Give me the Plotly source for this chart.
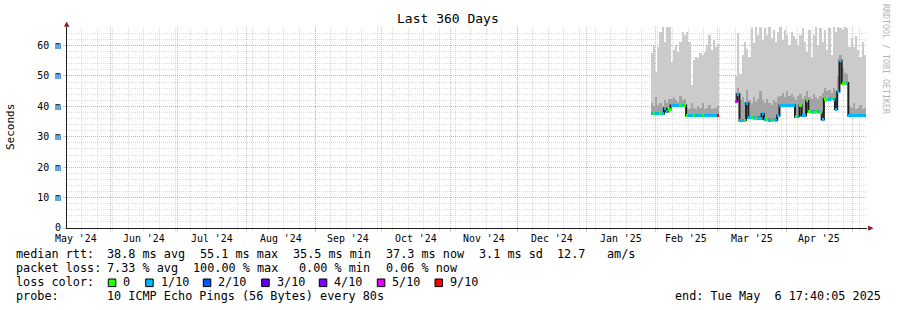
import pandas as pd
import plotly.graph_objects as go

# ---------------- data ----------------
RANGE_START = "2024-05-12 09:36"
RANGE_END = "2025-05-07 09:36"

seg1_start = "2025-01-30"
seg1_median = [37.6, 37.5, 37.6, 37.7, 37.6, 37.6, 39.3, 38.3, 39.0, 40.3, 40.2, 40.3, 40.4, 40.3, 40.2, 40.3,
               37.0, 37.1, 37.0, 36.9, 37.0, 37.1, 37.0, 37.0, 36.9, 37.0, 37.1, 37.0, 37.0, 36.9, 37.0]
seg1_loss = [1, 0, 1, 1, 0, 1, 1, 1, 0, 1, 1, 1, 1, 0, 1, 0,
             0, 1, 1, 0, 1, 1, 1, 0, 1, 1, 1, 1, 1, 1, 6]
seg1_top = [57.4, 60.0, 51.4, 59.5, 64.6, 66.0, 61.3, 66.0, 66.0, 54.7, 58.5, 60.1, 57.9, 61.3, 64.6, 63.5,
            64.6, 61.3, 47.0, 55.2, 56.4, 55.8, 57.4, 56.9, 57.9, 60.1, 63.5, 58.5, 61.8, 59.5, 60.6]
seg1_dark = [41.0, 40.0, 43.0, 40.5, 41.0, 40.0, 42.0, 41.0, 42.5, 42.5, 43.0, 42.0, 41.5, 43.5, 42.0, 42.5,
             39.5, 39.0, 41.0, 39.3, 39.0, 40.0, 39.5, 41.0, 39.0, 39.5, 40.5, 39.0, 39.5, 39.3, 40.0]

seg2_start = "2025-03-09"
seg2_median = [41.6, 44.0, 35.3, 35.4, 35.5, 41.0, 36.3, 36.4, 36.2, 36.0,
               36.3, 35.9, 37.5, 35.8, 35.6, 35.5, 35.4, 35.6, 35.5, 37.0,
               40.3, 40.4, 40.3, 40.2, 40.4, 40.3, 40.3, 36.6, 36.8, 40.3,
               37.0, 37.0, 41.8, 38.2, 38.2, 38.1, 38.3, 38.2, 38.0, 35.7,
               42.4, 42.4, 42.3, 42.5, 42.4, 39.1, 44.9, 55.1, 47.6, 47.5,
               47.7, 36.9, 36.9, 36.9, 36.9, 36.9, 36.9, 37.0, 37.1]
seg2_loss = [5, 1, 1, 1, 0, 1, 1, 0, 1, 0,
             1, 1, 1, 1, 0, 1, 0, 1, 1, 1,
             1, 1, 1, 1, 1, 1, 1, 0, 1, 0,
             1, 1, 0, 0, 1, 0, 0, 1, 0, 1,
             0, 0, 1, 0, 1, 1, 1, 1, 0, 0,
             1, 1, 1, 1, 1, 1, 1, 1, 1]
seg2_top = [50.0, 64.0, 50.5, 57.0, 61.3, 59.0, 56.4, 65.7, 60.7, 66.0,
            63.5, 66.0, 61.8, 65.7, 63.5, 66.0, 62.4, 65.2, 61.3, 64.6,
            66.0, 61.8, 65.2, 63.5, 60.1, 64.6, 63.0, 62.0, 60.0, 63.5,
            65.7, 61.3, 57.9, 65.2, 56.4, 63.5, 66.0, 60.1, 65.7, 61.3,
            65.2, 58.5, 65.7, 56.9, 66.0, 64.6, 66.0, 65.7, 65.2, 66.0,
            65.7, 59.5, 62.4, 59.5, 63.0, 58.5, 56.4, 61.3, 56.9]
seg2_dark = [44.5, 46.0, 42.0, 43.0, 41.5, 45.5, 42.0, 41.0, 43.0, 41.5,
             42.5, 45.0, 42.0, 41.0, 42.5, 41.0, 40.5, 42.0, 41.5, 43.0,
             43.5, 44.5, 43.0, 45.0, 43.5, 44.0, 43.0, 42.0, 43.5, 44.0,
             42.5, 43.5, 45.0, 43.0, 42.5, 44.0, 43.0, 42.5, 43.5, 44.5,
             46.0, 45.0, 45.5, 44.5, 46.0, 45.0, 50.0, 57.0, 52.5, 51.0,
             50.5, 40.0, 39.5, 41.0, 39.0, 39.5, 40.5, 39.0, 39.5]

loss_labels = ["0", "1/10", "2/10", "3/10", "4/10", "5/10", "9/10"]
loss_colors = ["#26ff00", "#00b8ff", "#0059ff", "#5e00ff", "#7e00ff", "#dd00ff", "#ff0000"]

month_starts = ["2024-06-01", "2024-07-01", "2024-08-01", "2024-09-01", "2024-10-01", "2024-11-01",
                "2024-12-01", "2025-01-01", "2025-02-01", "2025-03-01", "2025-04-01", "2025-05-01"]
month_label_pos = ["2024-05-16 12:00", "2024-06-16", "2024-07-16 12:00", "2024-08-16 12:00",
                   "2024-09-16", "2024-10-16 12:00", "2024-11-16", "2024-12-16 12:00",
                   "2025-01-16 12:00", "2025-02-15", "2025-03-16 12:00", "2025-04-16"]
month_labels = ["May '24", "Jun '24", "Jul '24", "Aug '24", "Sep '24", "Oct '24",
                "Nov '24", "Dec '24", "Jan '25", "Feb '25", "Mar '25", "Apr '25"]
week_lines = [d.strftime("%Y-%m-%d") for d in pd.date_range("2024-05-12", "2025-05-06", freq="W-SUN")]

y_tickvals = [0, 10, 20, 30, 40, 50, 60]
y_ticktext = ["0", "10 m", "20 m", "30 m", "40 m", "50 m", "60 m"]

title_text = "Last 360 Days"
y_title = "Seconds"
watermark = "RRDTOOL / TOBI OETIKER"
legend_line1 = ["median rtt:", "38.8 ms avg", "55.1 ms max", "35.5 ms min", "37.3 ms now", "3.1 ms sd", "12.7", "am/s"]
legend_line2 = ["packet loss:", "7.33 % avg", "100.00 % max", "0.00 % min", "0.06 % now"]
legend_line3_head = "loss color:"
legend_line4 = ["probe:", "10 ICMP Echo Pings (56 Bytes) every 80s"]
end_text = "end: Tue May  6 17:40:05 2025"

# ---------------- layout constants ----------------
FIG_W, FIG_H = 897, 310
ML, MR, MT, MB = 67, 30, 27, 82
PW = FIG_W - ML - MR
PH = FIG_H - MT - MB
FONT = "DejaVu Sans Mono"
DAY_MS = 86400000


def pxx(px):
    return (px - ML) / PW


def pxy(py):
    return (MT + PH - py) / PH


fig = go.Figure()

for start, med, loss, top, dark in [(seg1_start, seg1_median, seg1_loss, seg1_top, seg1_dark),
                                    (seg2_start, seg2_median, seg2_loss, seg2_top, seg2_dark)]:
    xs = pd.date_range(start, periods=len(med), freq="D") + pd.Timedelta(hours=12)
    fig.add_trace(go.Bar(x=xs, y=[t - m for t, m in zip(top, med)], base=med, width=DAY_MS,
                         marker=dict(color="#cbcbcb", line=dict(width=0)), hoverinfo="skip"))
    fig.add_trace(go.Bar(x=xs, y=[d - m for d, m in zip(dark, med)], base=med, width=DAY_MS,
                         marker=dict(color="#a3a3a3", line=dict(width=0)), hoverinfo="skip"))
    fig.add_trace(go.Scatter(x=xs, y=med, mode="lines", line=dict(color="#1f1f1f", width=2, shape="hvh"),
                             hoverinfo="skip"))
    fig.add_trace(go.Bar(x=xs, y=[1.0] * len(med), base=[m - 0.5 for m in med], width=DAY_MS,
                         marker=dict(color=[loss_colors[i] for i in loss], line=dict(width=0)),
                         xaxis="x2", yaxis="y", hoverinfo="skip"))

grid_minor = "rgba(150,150,150,0.32)"
grid_major = "rgba(225,90,90,0.42)"

fig.update_layout(
    width=FIG_W, height=FIG_H,
    margin=dict(l=ML, r=MR, t=MT, b=MB, pad=0),
    paper_bgcolor="white", plot_bgcolor="white",
    showlegend=False, barmode="overlay", bargap=0,
    font=dict(family=FONT, size=10, color="black"),
    xaxis=dict(type="date", range=[RANGE_START, RANGE_END],
               tickmode="array", tickvals=week_lines, showticklabels=False,
               showgrid=True, gridcolor=grid_minor, griddash="1px,1px", gridwidth=1,
               ticks="outside", ticklen=2, tickcolor=grid_minor,
               showline=True, linecolor="#1f1f1f", linewidth=1, zeroline=False,
               fixedrange=True),
    xaxis2=dict(type="date", range=[RANGE_START, RANGE_END], overlaying="x", anchor="y",
                tickmode="array", tickvals=month_starts, showticklabels=False,
                showgrid=True, gridcolor=grid_major, griddash="1px,1px", gridwidth=1,
                ticks="outside", ticklen=3, tickcolor=grid_major, showline=False, zeroline=False),
    yaxis=dict(range=[0, 66.1], tickmode="array", tickvals=y_tickvals, ticktext=y_ticktext,
               showgrid=True, gridcolor=grid_major, griddash="1px,1px", gridwidth=1,
               ticks="outside", ticklen=3, tickcolor=grid_major,
               tickfont=dict(family=FONT, size=9.9, color="black"),
               showline=True, linecolor="#1f1f1f", linewidth=1, zeroline=False,
               minor=dict(dtick=2, tick0=0, showgrid=True, gridcolor=grid_minor,
                          griddash="1px,1px", gridwidth=1, ticks=""),
               fixedrange=True),
)

ann = []
shapes = []

# month labels through the x scale (centred in each month, like rrdtool)
for pos, lab in zip(month_label_pos, month_labels):
    ann.append(dict(x=pos, y=pxy(238), xref="x", yref="paper", text=lab.replace(" ", "\u00a0"),
                    showarrow=False, xanchor="center", yanchor="middle", borderpad=0, borderwidth=0,
                    font=dict(family=FONT, size=9.9, color="black")))


def text(px, py, s, size=11.8, anchor="left", color="black", angle=0):
    ann.append(dict(x=pxx(px), y=pxy(py), xref="paper", yref="paper", text=s.replace(" ", "\u00a0"),
                    showarrow=False, xanchor=anchor, yanchor="middle", textangle=angle,
                    borderpad=0, borderwidth=0,
                    font=dict(family=FONT, size=size, color=color)))


text(448, 19, title_text, size=13, anchor="center")
text(11, 127, y_title, size=11, anchor="center", angle=-90)
text(886, 59, watermark, size=8.3, anchor="center", color="#b4b4b4", angle=90)

l1_x = [16, 107.3, 200, 293.3, 386, 479.3, 557.3, 606.7]
for x, s in zip(l1_x, legend_line1):
    text(x, 254, s)
l2_x = [16, 107.3, 193.3, 299.3, 386]
for x, s in zip(l2_x, legend_line2):
    text(x, 268, s)
text(16, 282, legend_line3_head)
box_x = [108.3, 145.7, 203.3, 261.7, 319.3, 377.3, 435]
for bx, lab, col in zip(box_x, loss_labels, loss_colors):
    shapes.append(dict(type="rect", xref="paper", yref="paper",
                       x0=pxx(bx), x1=pxx(bx + 7.5), y0=pxy(286.6), y1=pxy(279),
                       fillcolor=col, line=dict(color="black", width=1)))
    text(bx + 15, 282, lab)
text(16, 296, legend_line4[0])
text(107.3, 296, legend_line4[1])
text(881, 296, end_text, anchor="right")

# axis arrows
ann.append(dict(x=pxx(871), y=pxy(228), xref="paper", yref="paper", text="\u25b6", showarrow=False,
                xanchor="center", yanchor="middle", font=dict(family="DejaVu Sans", size=7, color="#801f1f")))
ann.append(dict(x=pxx(67), y=pxy(24), xref="paper", yref="paper", text="\u25b2", showarrow=False,
                xanchor="center", yanchor="middle", font=dict(family="DejaVu Sans", size=7, color="#801f1f")))

fig.update_layout(annotations=ann, shapes=shapes)

fig.write_html("out.html", config={"displayModeBar": False})
